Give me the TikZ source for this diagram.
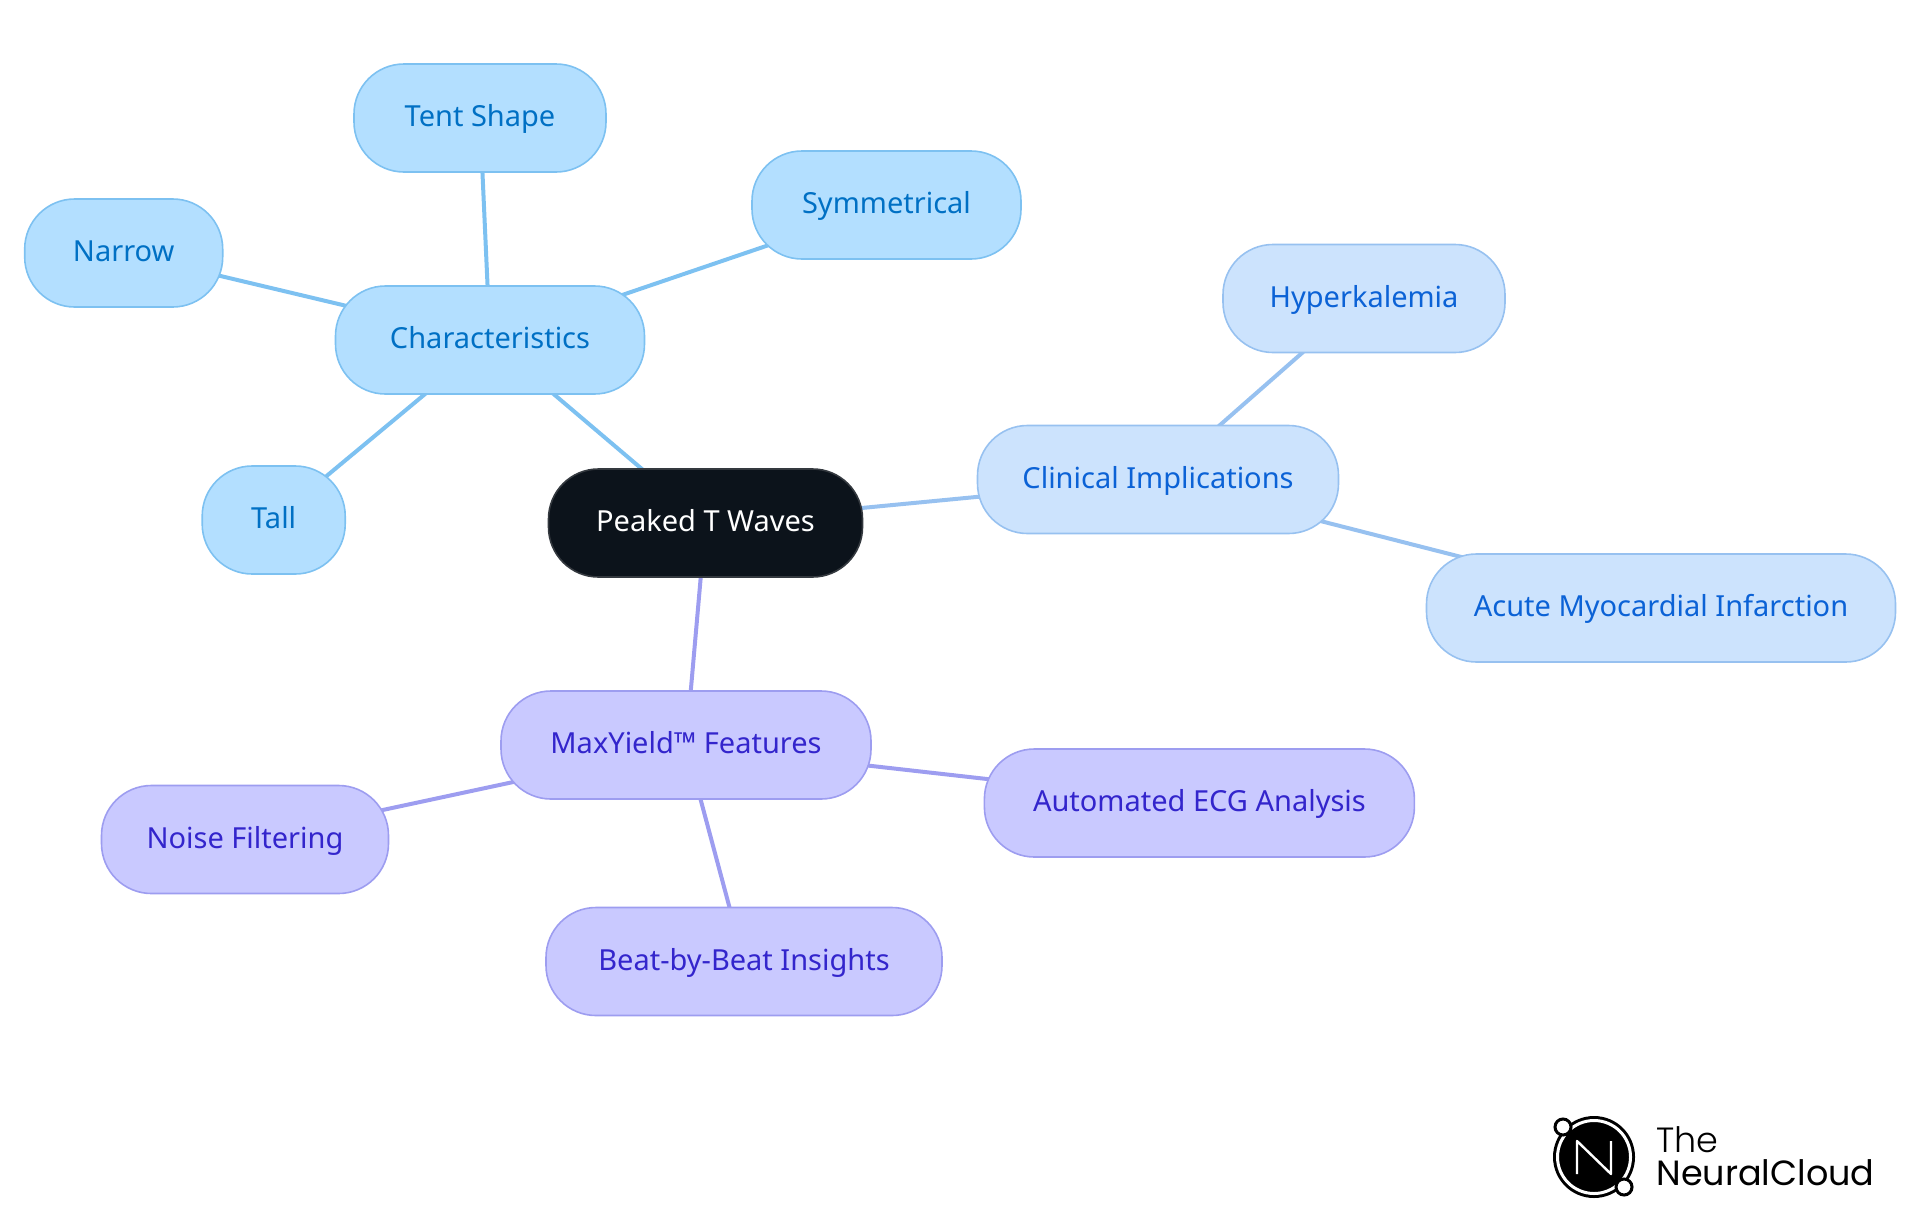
\documentclass[tikz,border=0pt]{standalone}
\usepackage{fontspec}
\setsansfont{Noto Sans}
\newfontfamily\logolight{Poppins Light}
\newfontfamily\logoreg{Poppins}
\usetikzlibrary{backgrounds}
\definecolor{charfill}{HTML}{B3DFFF}
\definecolor{chardraw}{HTML}{7DC1F1}
\definecolor{chartext}{HTML}{0070C4}
\definecolor{clinfill}{HTML}{CCE3FD}
\definecolor{clindraw}{HTML}{97C1F0}
\definecolor{clintext}{HTML}{0B62D6}
\definecolor{featfill}{HTML}{C9C9FF}
\definecolor{featdraw}{HTML}{9D9DF0}
\definecolor{feattext}{HTML}{3325CC}
\definecolor{rootfill}{HTML}{0C131B}
\definecolor{rootdraw}{HTML}{34393F}
\tikzset{
  mapnode/.style={rounded corners=25pt, minimum height=54pt, inner sep=0pt, line width=.8pt,
    font=\sffamily\fontsize{14.5}{16}\selectfont, text height=11.5pt, text depth=3pt},
  rootnode/.style={mapnode, fill=rootfill, draw=rootdraw, text=white},
  charnode/.style={mapnode, fill=charfill, draw=chardraw, text=chartext},
  clinnode/.style={mapnode, fill=clinfill, draw=clindraw, text=clintext},
  featnode/.style={mapnode, fill=featfill, draw=featdraw, text=feattext},
  charedge/.style={draw=chardraw, line width=2pt},
  clinedge/.style={draw=clindraw, line width=2pt},
  featedge/.style={draw=featdraw, line width=2pt}
}
\begin{document}
\begin{tikzpicture}[x=.5pt, y=-.5pt]
  \useasboundingbox (0,0) rectangle (1920,1215);
  \node (peaked) [rootnode, minimum width=157pt] at (705.5,523) {Peaked T Waves};
  \node (char) [charnode, minimum width=154.5pt] at (490,340) {Characteristics};
  \node (tent) [charnode, minimum width=126pt] at (480,118) {Tent Shape};
  \node (symm) [charnode, minimum width=134.5pt] at (886.5,205) {Symmetrical};
  \node (narrow) [charnode, minimum width=99pt] at (123.7,253) {Narrow};
  \node (tall) [charnode, minimum width=71.5pt] at (273.7,520) {Tall};
  \node (clin) [clinnode, minimum width=180.5pt] at (1158,479.5) {Clinical Implications};
  \node (hyper) [clinnode, minimum width=141pt] at (1364,298.5) {Hyperkalemia};
  \node (acute) [clinnode, minimum width=234.5pt] at (1661,608) {Acute Myocardial Infarction};
  \node (feat) [featnode, minimum width=185pt] at (686,745) {MaxYield™ Features};
  \node (noise) [featnode, minimum width=143.5pt] at (245,839.5) {Noise Filtering};
  \node (auto) [featnode, minimum width=215pt] at (1199.4,803) {Automated ECG Analysis};
  \node (beat) [featnode, minimum width=198pt] at (744,961.5) {Beat-by-Beat Insights};
  \begin{scope}[on background layer]
    \foreach \a/\b in {char/peaked, char/tent, char/symm, char/narrow, char/tall}
      \draw [charedge] (\a.center) -- (\b.center);
    \foreach \a/\b in {clin/peaked, clin/hyper, clin/acute}
      \draw [clinedge] (\a.center) -- (\b.center);
    \foreach \a/\b in {feat/peaked, feat/noise, feat/auto, feat/beat}
      \draw [featedge] (\a.center) -- (\b.center);
  \end{scope}
  % logo
  \fill [black] (1594,1157) circle [radius=41];
  \draw [white, line width=1.5pt] (1594,1157) circle [radius=36.5];
  \draw [white, line width=1.2pt, line join=round] (1577,1174) -- (1577,1141) -- (1611,1174) -- (1611,1141);
  \draw [black, fill=white, line width=1.5pt] (1563,1127) circle [radius=8];
  \draw [black, fill=white, line width=1.5pt] (1624,1187) circle [radius=8];
  \node [inner sep=0pt, anchor=base west, font=\logolight\fontsize{17.5}{20}\selectfont] at (1656,1152) {The};
  \node [inner sep=0pt, anchor=base west, font=\logoreg\fontsize{17.5}{20}\selectfont] at (1656,1185) {NeuralCloud};
\end{tikzpicture}
\end{document}
